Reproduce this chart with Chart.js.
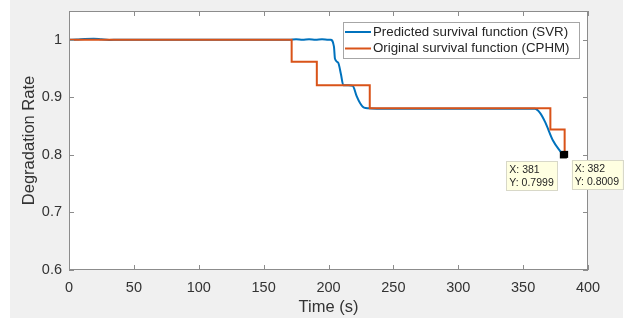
<!DOCTYPE html>
<html>
<head>
<meta charset="utf-8">
<script src="https://cdn.jsdelivr.net/npm/chart.js@4.4.0/dist/chart.umd.min.js"></script>
<style>
  html, body { margin: 0; padding: 0; background: #ffffff; }
  canvas { display: block; }
</style>
</head>
<body>
<canvas id="myChart" width="631" height="321"></canvas>
<script>
// Predicted survival function (SVR)
var svrTime = [0, 6, 12, 19, 25, 31, 38, 50, 100, 150, 170, 175, 180, 185, 190, 195, 200, 201.6,
    204.2, 205, 207.5, 209.6, 211.4, 215.3, 218.7, 221.7, 224.3, 227.4, 230.7, 240, 300, 359,
    363, 367, 373, 378.4, 381];
var svrValue = [1, 1.0005, 1.0015, 1.002, 1.0008, 0.9997, 1, 1, 1, 1, 1, 1.001, 1, 1.001, 1, 1.001, 1, 1,
    0.988, 0.967, 0.96, 0.94, 0.921, 0.921, 0.92, 0.902, 0.89, 0.882, 0.881, 0.88, 0.88, 0.88,
    0.873, 0.857, 0.825, 0.807, 0.7999];

// Original survival function (CPHM), step changes
var cphmTime = [0, 171.6, 191, 231.8, 371, 382];
var cphmValue = [1, 0.962, 0.921, 0.881, 0.844, 0.8009];

var xTicks = [0, 50, 100, 150, 200, 250, 300, 350, 400];
var yTicks = [0.6, 0.7, 0.8, 0.9, 1];
var yTickLabels = ['0.6', '0.7', '0.8', '0.9', '1'];

var tipX = [381, 382];
var tipY = [0.7999, 0.8009];

var blue = '#0072BD';
var red = '#D95319';
var fontFamily = '"Liberation Sans", Arial, sans-serif';

function toPoints(xs, ys) {
    return xs.map(function (x, i) { return { x: x, y: ys[i] }; });
}

var matlabLook = {
    id: 'matlabLook',
    beforeDraw: function (chart) {
        var c = chart.ctx, a = chart.chartArea;
        c.save();
        c.fillStyle = '#f0f0f0';
        c.fillRect(10, 0, 613, 318);
        c.fillStyle = '#ffffff';
        c.fillRect(a.left, a.top, a.right - a.left, a.bottom - a.top);
        c.restore();
    },
    afterDatasetsDraw: function (chart) {
        var c = chart.ctx, a = chart.chartArea;
        var xs = chart.scales.x, ys = chart.scales.y;
        c.save();
        // axes box and inward ticks
        c.strokeStyle = '#8c8c8c';
        c.lineWidth = 1;
        c.strokeRect(a.left + 0.5, a.top + 0.5, a.right - a.left - 1, a.bottom - a.top - 1);
        c.beginPath();
        xTicks.forEach(function (v) {
            var px = Math.round(xs.getPixelForValue(v)) + 0.5;
            c.moveTo(px, a.bottom); c.lineTo(px, a.bottom - 5);
            c.moveTo(px, a.top); c.lineTo(px, a.top + 5);
        });
        yTicks.forEach(function (v) {
            var py = Math.round(ys.getPixelForValue(v)) + 0.5;
            c.moveTo(a.left, py); c.lineTo(a.left + 5, py);
            c.moveTo(a.right, py); c.lineTo(a.right - 5, py);
        });
        c.stroke();

        // legend
        var lx = 343, ly = 22, lw = 236, lh = 36;
        c.fillStyle = '#ffffff';
        c.fillRect(lx, ly, lw, lh);
        c.strokeStyle = '#a6a6a6';
        c.strokeRect(lx + 0.5, ly + 0.5, lw, lh);
        c.font = '13.3px ' + fontFamily;
        c.textBaseline = 'middle';
        c.textAlign = 'left';
        chart.data.datasets.forEach(function (ds, i) {
            var yy = ly + 10 + i * 16.5;
            c.strokeStyle = ds.borderColor;
            c.lineWidth = 2;
            c.beginPath();
            c.moveTo(lx + 2, yy); c.lineTo(lx + 28, yy);
            c.stroke();
            c.fillStyle = '#262626';
            c.fillText(ds.label, lx + 30, yy);
        });

        // data tips
        c.font = '10.5px ' + fontFamily;
        tipX.forEach(function (tx, i) {
            var px = xs.getPixelForValue(tx), py = ys.getPixelForValue(tipY[i]);
            var bw = 51, bh = 29;
            var bx = i === 0 ? px - 6 - bw : px + 7;
            var by = py + 6;
            c.fillStyle = '#ffffe1';
            c.fillRect(bx, by, bw, bh);
            c.strokeStyle = '#d8d8c8';
            c.lineWidth = 1;
            c.strokeRect(Math.round(bx) + 0.5, Math.round(by) + 0.5, bw, bh);
            c.fillStyle = '#262626';
            c.fillText('X: ' + tx, bx + 3, by + 9);
            c.fillText('Y: ' + tipY[i].toFixed(4), bx + 3, by + 22);
        });
        tipX.forEach(function (tx, i) {
            var px = xs.getPixelForValue(tx), py = ys.getPixelForValue(tipY[i]);
            c.fillStyle = '#000000';
            c.fillRect(px - 3.5, py - 3.5, 7, 7);
        });
        c.restore();
    }
};

var ctx = document.getElementById('myChart').getContext('2d');
var myChart = new Chart(ctx, {
    type: 'line',
    data: {
        datasets: [{
            label: 'Predicted survival function (SVR)',
            data: toPoints(svrTime, svrValue),
            borderColor: blue,
            borderWidth: 2,
            pointRadius: 0,
            cubicInterpolationMode: 'monotone',
            order: 1
        },
        {
            label: 'Original survival function (CPHM)',
            data: toPoints(cphmTime, cphmValue),
            borderColor: red,
            borderWidth: 2,
            pointRadius: 0,
            stepped: 'before',
            order: 0
        }]
    },
    options: {
        responsive: false,
        animation: false,
        layout: {
            padding: { left: 0, right: 43, top: 11, bottom: 0 }
        },
        plugins: {
            legend: { display: false },
            tooltip: { enabled: false }
        },
        scales: {
            x: {
                type: 'linear',
                min: 0,
                max: 400,
                grid: { display: false, drawTicks: false },
                border: { display: false },
                afterBuildTicks: function (scale) {
                    scale.ticks = xTicks.map(function (v) { return { value: v }; });
                },
                afterFit: function (scale) {
                    scale.height = 51;
                    scale.paddingLeft = 0;
                    scale.paddingRight = 0;
                },
                ticks: {
                    padding: 9,
                    color: '#333333',
                    font: { family: fontFamily, size: 14.5 },
                    maxRotation: 0
                },
                title: {
                    display: true,
                    text: 'Time (s)',
                    color: '#333333',
                    font: { family: fontFamily, size: 16.5 },
                    padding: { top: 0, bottom: 4 }
                }
            },
            y: {
                min: 0.6,
                max: 1.05,
                grid: { display: false, drawTicks: false },
                border: { display: false },
                afterBuildTicks: function (scale) {
                    scale.ticks = yTicks.map(function (v) { return { value: v }; });
                },
                afterFit: function (scale) {
                    scale.width = 69;
                    scale.paddingTop = 0;
                    scale.paddingBottom = 0;
                },
                ticks: {
                    padding: 7,
                    color: '#333333',
                    font: { family: fontFamily, size: 14.5 },
                    callback: function (v) { return yTickLabels[yTicks.indexOf(v)]; }
                },
                title: {
                    display: true,
                    text: 'Degradation Rate',
                    color: '#333333',
                    font: { family: fontFamily, size: 16.5 },
                    padding: { top: 20, bottom: 0 }
                }
            }
        }
    },
    plugins: [matlabLook]
});
</script>
</body>
</html>
